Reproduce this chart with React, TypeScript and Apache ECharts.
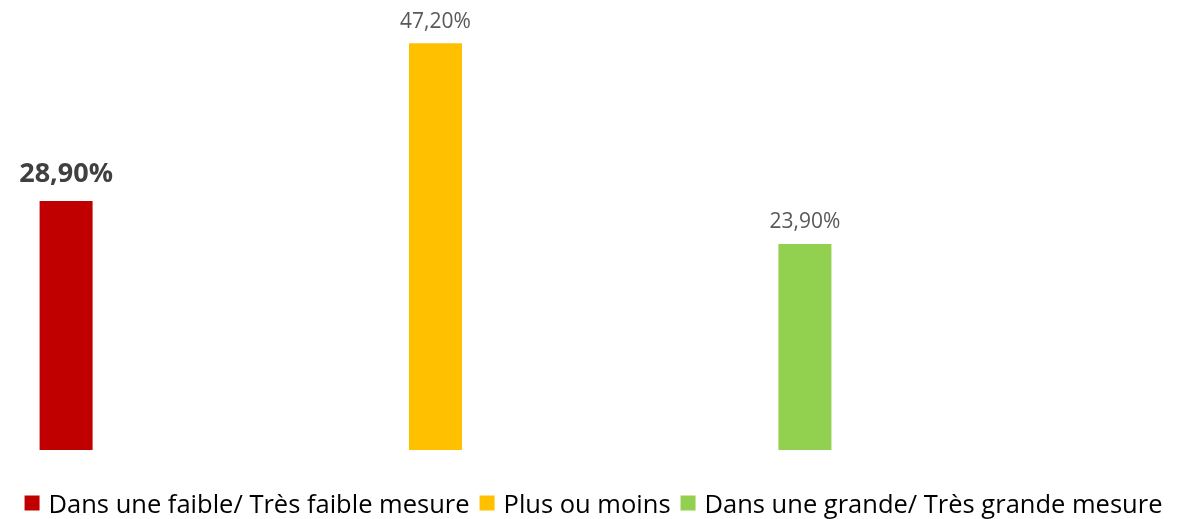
import React, { useEffect, useRef } from "react";
import * as echarts from "echarts";

const categories = ["Réponse"];
const seriesNames = [
  "Dans une faible/ Très faible mesure",
  "Plus ou moins",
  "Dans une grande/ Très grande mesure",
];
const seriesValues = [28.9, 47.2, 23.9];
const seriesColors = ["#C00000", "#FFC000", "#92D050"];
const boldLabel = [true, false, false];

const fmt = (v: number) => v.toFixed(2).replace(".", ",") + "%";

export default function App() {
  const ref = useRef<HTMLDivElement>(null);
  useEffect(() => {
    if (!ref.current) return;
    const chart = echarts.init(ref.current, undefined, { renderer: "svg" });
    chart.setOption({
      animation: false,
      textStyle: { fontFamily: "Open Sans" },
      legend: {
        top: 490,
        left: "center",
        padding: 0,
        itemWidth: 15,
        itemHeight: 15,
        itemGap: 10,
        icon: "rect",
        textStyle: {
          fontSize: 25.5,
          color: "#000000",
          fontFamily: "Open Sans",
          padding: [0, 0, 0, 4],
        },
        data: seriesNames,
      },
      grid: { left: 0, right: 316, top: 19, bottom: 69 },
      xAxis: {
        type: "category",
        data: categories,
        show: false,
      },
      yAxis: {
        type: "value",
        min: 0,
        max: 50,
        show: false,
        splitLine: { show: false },
      },
      series: seriesNames.map((name, i) => ({
        name,
        type: "bar",
        data: [seriesValues[i]],
        barWidth: 53,
        barGap: "597%",
        itemStyle: { color: seriesColors[i] },
        label: {
          show: true,
          position: "top",
          distance: boldLabel[i] ? 16 : 13,
          formatter: (p: any) => fmt(p.value),
          fontFamily: "Open Sans",
          fontSize: boldLabel[i] ? 27 : 21,
          fontWeight: boldLabel[i] ? "bold" : "normal",
          color: boldLabel[i] ? "#404040" : "#595959",
        },
      })),
    });
    return () => chart.dispose();
  }, []);
  return (
    <div
      ref={ref}
      style={{ position: "fixed", left: 0, top: 0, width: 1187, height: 519 }}
    />
  );
}
